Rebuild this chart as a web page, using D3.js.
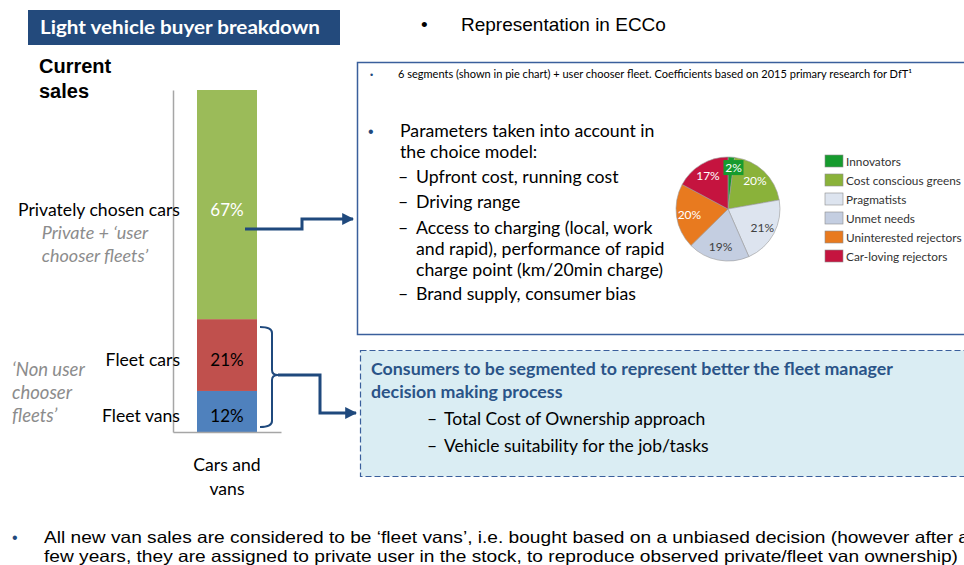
<!DOCTYPE html>
<html>
<head>
<meta charset="utf-8">
<script src="https://cdn.jsdelivr.net/npm/d3@7"></script>
<style>
  body { margin: 0; background: #fff; }
  svg { display: block; }
</style>
</head>
<body>
<div id="chart"></div>
<script>
// bar chart data (stacked bottom -> top)
var barGroup = "Cars and vans";
var barCategories = ["Fleet vans", "Fleet cars", "Privately chosen cars"];
var barValues = [12, 21, 67];
var barColors = ["#4f81bd", "#c0504d", "#9bbb59"];
var barLabelColors = ["#000", "#000", "#fff"];

// pie chart data (clockwise from 12 o'clock)
var pieLabels = ["Innovators", "Cost conscious greens", "Pragmatists", "Unmet needs", "Uninterested rejectors", "Car-loving rejectors"];
var pieValues = [2, 20, 21, 19, 20, 17];
var pieColors = ["#169b2e", "#8ab23a", "#dde4ef", "#c4cee1", "#e87a1f", "#c5143f"];
var pieTextColors = ["#fff", "#fff", "#404040", "#404040", "#fff", "#fff"];

var width = 964, height = 565;
var navy = "#1f497d";
var calibri = "Lato, 'Open Sans', sans-serif";
var arial = "'Liberation Sans', Arial, sans-serif";

var svg = d3.select("#chart").append("svg")
  .attr("width", width)
  .attr("height", height);

var defs = svg.append("defs");
defs.append("marker")
  .attr("id", "arrow")
  .attr("viewBox", "0 0 10 10")
  .attr("refX", 9).attr("refY", 5)
  .attr("markerWidth", 4).attr("markerHeight", 4)
  .attr("orient", "auto")
  .append("path")
  .attr("d", "M0,0 L10,5 L0,10 Z")
  .attr("fill", navy);

/** Title block */
svg.append("rect")
  .attr("x", 28).attr("y", 10).attr("width", 312).attr("height", 35)
  .attr("fill", "#234a7c");
svg.append("text")
  .attr("x", 40).attr("y", 34)
  .attr("fill", "#fff")
  .attr("textLength", 280).attr("lengthAdjust", "spacingAndGlyphs")
  .style("font-family", calibri).style("font-weight", "bold").style("font-size", "19px")
  .text("Light vehicle buyer breakdown");

svg.append("text")
  .attr("x", 39).attr("y", 73)
  .style("font-family", arial).style("font-weight", "bold").style("font-size", "20px")
  .selectAll("tspan").data(["Current", "sales"]).join("tspan")
  .attr("x", 39).attr("dy", function(d, i){ return i ? 25 : 0; })
  .text(function(d){ return d; });

/** Stacked bar */
var y = d3.scaleLinear().domain([0, 100]).range([432, 90]);
var x = d3.scaleBand().domain([barGroup]).range([173, 281]).paddingInner(0).paddingOuter(0.4);

var row = {};
barCategories.forEach(function(c, i){ row[c] = barValues[i]; });
var stacked = d3.stack().keys(barCategories)([row]);

svg.append("g")
  .attr("transform", "translate(173,0)")
  .call(d3.axisLeft(y).tickValues([]).tickSizeOuter(0))
  .call(function(g){ g.select(".domain").attr("stroke", "#a6a6a6").attr("stroke-width", 1.5); });

svg.append("g").selectAll("rect")
  .data(stacked)
  .join("rect")
  .attr("x", x(barGroup))
  .attr("width", x.bandwidth())
  .attr("y", function(d){ return y(d[0][1]); })
  .attr("height", function(d){ return y(d[0][0]) - y(d[0][1]); })
  .attr("fill", function(d, i){ return barColors[i]; });

svg.append("g")
  .attr("transform", "translate(0,432)")
  .call(d3.axisBottom(x).tickValues([]).tickSizeOuter(0))
  .call(function(g){ g.select(".domain").attr("stroke", "#a6a6a6").attr("stroke-width", 1.5); });

function labelY(d, i){ return i === 2 ? 216 : (y(d[0][0]) + y(d[0][1])) / 2 + 10.5; }

// value labels
svg.append("g").selectAll("text")
  .data(stacked)
  .join("text")
  .attr("x", x(barGroup) + x.bandwidth() / 2)
  .attr("y", labelY)
  .attr("text-anchor", "middle")
  .attr("fill", function(d, i){ return barLabelColors[i]; })
  .style("font-family", calibri).style("font-size", "17px")
  .text(function(d, i){ return barValues[i] + "%"; });

// category labels
svg.append("g").selectAll("text")
  .data(stacked)
  .join("text")
  .attr("x", 180)
  .attr("y", labelY)
  .attr("text-anchor", "end")
  .attr("fill", "#000")
  .style("font-family", calibri).style("font-size", "17.6px")
  .text(function(d){ return d.key; });

svg.append("text")
  .attr("x", x(barGroup) + x.bandwidth() / 2).attr("y", 471)
  .attr("text-anchor", "middle")
  .style("font-family", calibri).style("font-size", "17.6px")
  .selectAll("tspan").data(["Cars and", "vans"]).join("tspan")
  .attr("x", x(barGroup) + x.bandwidth() / 2).attr("dy", function(d, i){ return i ? 24 : 0; })
  .text(function(d){ return d; });

// grey italic notes
svg.append("text")
  .attr("y", 239)
  .attr("text-anchor", "middle")
  .attr("fill", "#8c8c8c")
  .style("font-family", calibri).style("font-style", "italic").style("font-size", "18px")
  .selectAll("tspan").data(["Private + \u2018user", "chooser fleets\u2019"]).join("tspan")
  .attr("x", 95).attr("dy", function(d, i){ return i ? 23 : 0; })
  .text(function(d){ return d; });

svg.append("text")
  .attr("y", 376)
  .attr("fill", "#8c8c8c")
  .style("font-family", calibri).style("font-style", "italic").style("font-size", "18.5px")
  .selectAll("tspan").data(["\u2018Non user", "chooser", "fleets\u2019"]).join("tspan")
  .attr("x", 12).attr("dy", function(d, i){ return i ? 23 : 0; })
  .text(function(d){ return d; });

/** Connectors */
svg.append("path")
  .attr("d", "M245,229 H302 V219 H353")
  .attr("fill", "none").attr("stroke", navy).attr("stroke-width", 3)
  .attr("marker-end", "url(#arrow)");

svg.append("path")
  .attr("d", "M260,327 Q272,327 272,333 V370 Q272,375 278,375 Q272,375 272,380 V421 Q272,427 260,427")
  .attr("fill", "none").attr("stroke", navy).attr("stroke-width", 2);

svg.append("path")
  .attr("d", "M278,375 H320 V413 H356")
  .attr("fill", "none").attr("stroke", navy).attr("stroke-width", 3)
  .attr("marker-end", "url(#arrow)");

/** Heading */
svg.append("text")
  .attr("x", 421).attr("y", 31)
  .style("font-family", arial).style("font-size", "19px")
  .text("\u2022");
svg.append("text")
  .attr("x", 461).attr("y", 31)
  .style("font-family", arial).style("font-size", "19px")
  .text("Representation in ECCo");

/** Top box */
svg.append("rect")
  .attr("x", 357.5).attr("y", 62.5).attr("width", 640).attr("height", 272)
  .attr("fill", "#fff").attr("stroke", "#3a5f9c").attr("stroke-width", 1.5);

svg.append("text")
  .attr("x", 370).attr("y", 78)
  .attr("fill", navy)
  .style("font-family", arial).style("font-size", "9px")
  .text("\u2022");
svg.append("text")
  .attr("x", 398).attr("y", 78)
  .attr("textLength", 514).attr("lengthAdjust", "spacingAndGlyphs")
  .style("font-family", calibri).style("font-size", "11px")
  .text("6 segments (shown in pie chart) + user chooser fleet. Coefficients based on 2015 primary research for DfT\u00b9");

svg.append("text")
  .attr("x", 368).attr("y", 137)
  .attr("fill", navy)
  .style("font-family", arial).style("font-size", "16px")
  .text("\u2022");

var paraLines = [
  {d: "", t: "Parameters taken into account in", x: 400, y: 137},
  {d: "", t: "the choice model:", x: 400, y: 158},
  {d: "\u2013", t: "Upfront cost, running cost", x: 416, y: 183},
  {d: "\u2013", t: "Driving range", x: 416, y: 208},
  {d: "\u2013", t: "Access to charging (local, work", x: 416, y: 234},
  {d: "", t: "and rapid), performance of rapid", x: 416, y: 255},
  {d: "", t: "charge point (km/20min charge)", x: 416, y: 276},
  {d: "\u2013", t: "Brand supply, consumer bias", x: 416, y: 300}
];
var paraG = svg.append("g")
  .style("font-family", calibri).style("font-size", "17.7px");
paraG.selectAll("text.t")
  .data(paraLines)
  .join("text")
  .attr("class", "t")
  .attr("x", function(d){ return d.x; })
  .attr("y", function(d){ return d.y; })
  .text(function(d){ return d.t; });
paraG.selectAll("text.d")
  .data(paraLines.filter(function(d){ return d.d; }))
  .join("text")
  .attr("class", "d")
  .attr("x", 398)
  .attr("y", function(d){ return d.y; })
  .text(function(d){ return d.d; });

/** Pie */
var pieG = svg.append("g").attr("transform", "translate(728,209)");
var pie = d3.pie().sort(null).value(function(d){ return d; });
var arcs = pie(pieValues);
var arc = d3.arc().innerRadius(0).outerRadius(52);
var labelArc = d3.arc().innerRadius(39).outerRadius(39);

pieG.selectAll("path")
  .data(arcs)
  .join("path")
  .attr("d", arc)
  .attr("fill", function(d, i){ return pieColors[i]; })
  .attr("stroke", "#9a9a9a").attr("stroke-width", 0.6);

var pieLabelG = pieG.selectAll("g.lbl")
  .data(arcs)
  .join("g")
  .attr("class", "lbl")
  .attr("transform", function(d, i){
    var c = labelArc.centroid(d);
    if (i === 0) { c = [c[0] + 3, c[1] - 2]; }
    return "translate(" + c[0] + "," + c[1] + ")";
  });

pieLabelG.filter(function(d, i){ return i === 0; })
  .append("rect")
  .attr("x", -10).attr("y", -8).attr("width", 20).attr("height", 15)
  .attr("fill", pieColors[0]);

pieLabelG.append("text")
  .attr("text-anchor", "middle")
  .attr("dy", "0.35em")
  .attr("fill", function(d, i){ return pieTextColors[i]; })
  .style("font-family", calibri).style("font-size", "12px")
  .text(function(d, i){ return pieValues[i] + "%"; });

// legend
var legend = svg.append("g").attr("transform", "translate(825,155)");
var legendRows = legend.selectAll("g")
  .data(pieLabels)
  .join("g")
  .attr("transform", function(d, i){ return "translate(0," + i * 19 + ")"; });
legendRows.append("rect")
  .attr("width", 18).attr("height", 12)
  .attr("fill", function(d, i){ return pieColors[i]; })
  .attr("stroke", "#8c8c8c").attr("stroke-width", 0.6);
legendRows.append("text")
  .attr("x", 21).attr("y", 10.5)
  .attr("fill", "#333")
  .style("font-family", calibri).style("font-size", "11.8px")
  .text(function(d){ return d; });

/** Lower box */
svg.append("rect")
  .attr("x", 360.5).attr("y", 350.5).attr("width", 640).attr("height", 126)
  .attr("fill", "#daedf3").attr("stroke", "#3a5f9c").attr("stroke-width", 1.2)
  .attr("stroke-dasharray", "6,3");

svg.append("text")
  .attr("y", 375)
  .attr("fill", "#2a5488")
  .style("font-family", calibri).style("font-weight", "bold").style("font-size", "17.8px")
  .selectAll("tspan").data(["Consumers to be segmented to represent better the fleet manager", "decision making process"]).join("tspan")
  .attr("x", 371).attr("dy", function(d, i){ return i ? 23 : 0; })
  .text(function(d){ return d; });

svg.append("g").selectAll("text")
  .data(["Total Cost of Ownership approach", "Vehicle suitability for the job/tasks"])
  .join("text")
  .attr("y", function(d, i){ return 425 + i * 27; })
  .style("font-family", calibri).style("font-size", "17.5px")
  .selectAll("tspan").data(function(d){ return [{t: "\u2013", x: 427}, {t: d, x: 444}]; }).join("tspan")
  .attr("x", function(d){ return d.x; })
  .text(function(d){ return d.t; });

/** Footnote bullet */
svg.append("text")
  .attr("x", 12).attr("y", 543)
  .attr("fill", navy)
  .style("font-family", arial).style("font-size", "16px")
  .text("\u2022");
svg.append("text")
  .attr("x", 44).attr("y", 543)
  .attr("textLength", 925).attr("lengthAdjust", "spacingAndGlyphs")
  .style("font-family", arial).style("font-size", "16.5px")
  .text("All new van sales are considered to be \u2018fleet vans\u2019, i.e. bought based on a unbiased decision (however after a");
svg.append("text")
  .attr("x", 44).attr("y", 562)
  .attr("textLength", 914).attr("lengthAdjust", "spacingAndGlyphs")
  .style("font-family", arial).style("font-size", "16.5px")
  .text("few years, they are assigned to private user in the stock, to reproduce observed private/fleet van ownership)");
</script>
</body>
</html>
